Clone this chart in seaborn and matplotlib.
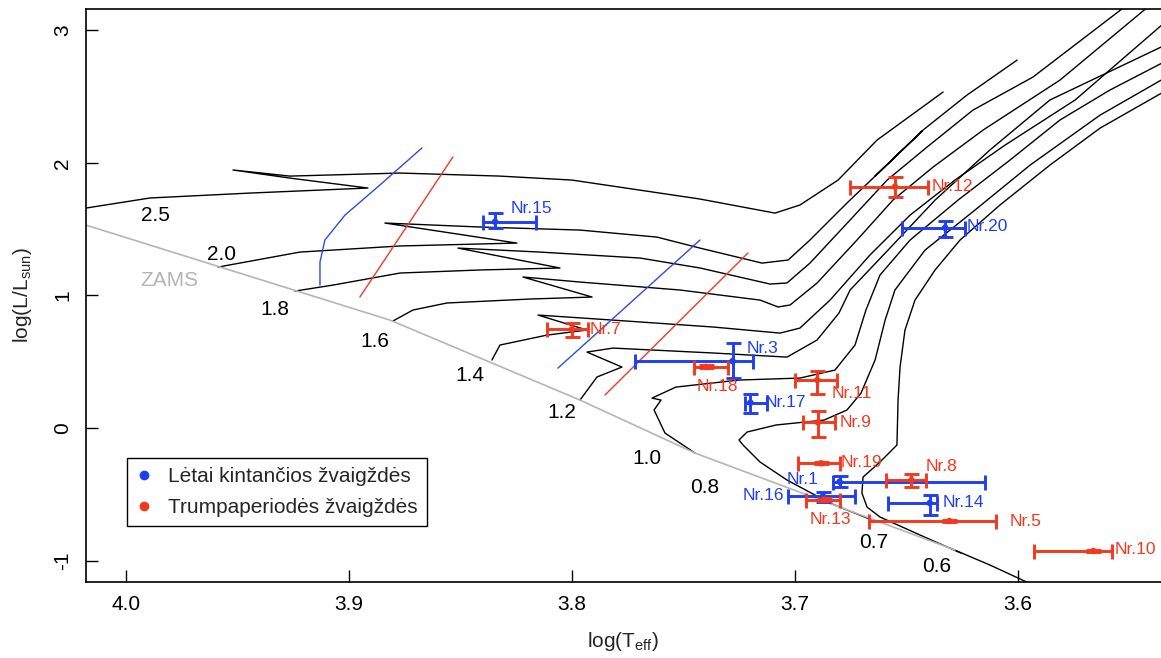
import numpy as np
import pandas as pd
import matplotlib
matplotlib.use("Agg")
import matplotlib.pyplot as plt
from matplotlib.lines import Line2D
import seaborn as sns

sns.set_theme(style="white")
plt.rcParams["font.family"] = ["Liberation Sans", "DejaVu Sans"]
plt.rcParams["mathtext.fontset"] = "custom"
plt.rcParams["mathtext.rm"] = "Liberation Sans"
plt.rcParams["mathtext.it"] = "Liberation Sans:italic"

# ---------------------------------------------------------------------------
# Evolutionary tracks, columns: log(Teff), log(L/Lsun)
# ---------------------------------------------------------------------------
track_2_5 = np.array([
    (4.0296, 1.644), (4.0179, 1.659), (3.9892, 1.735), (3.9444, 1.772), (3.8915, 1.810),
    (3.9265, 1.885), (3.9520, 1.946), (3.9265, 1.900), (3.8771, 1.923), (3.8323, 1.900),
    (3.8000, 1.870), (3.7426, 1.727), (3.7090, 1.621), (3.6978, 1.682), (3.6807, 1.870),
    (3.6632, 2.172), (3.6336, 2.534)])
track_2_0 = np.array([
    (3.9587, 1.214), (3.9220, 1.327), (3.8771, 1.373), (3.8247, 1.395), (3.8839, 1.546),
    (3.8413, 1.516), (3.7964, 1.493), (3.7619, 1.440), (3.7426, 1.357), (3.7148, 1.244),
    (3.7031, 1.267), (3.6933, 1.418), (3.6767, 1.697), (3.6650, 1.885), (3.6430, 2.240),
    (3.6641, 1.900), (3.6426, 2.247), (3.6229, 2.511), (3.6004, 2.775)])
track_1_8 = np.array([
    (3.9242, 1.033), (3.9072, 1.078), (3.8771, 1.169), (3.8413, 1.192), (3.8054, 1.207),
    (3.8511, 1.357), (3.8143, 1.327), (3.7695, 1.282), (3.7426, 1.207), (3.7112, 1.086),
    (3.7036, 1.094), (3.6933, 1.244), (3.6753, 1.569), (3.6587, 1.870), (3.6408, 2.119),
    (3.6202, 2.398), (3.5933, 2.647), (3.5453, 3.265)])
track_1_6 = np.array([
    (3.8803, 0.807), (3.8713, 0.890), (3.8561, 0.943), (3.8188, 0.973), (3.7910, 0.988),
    (3.8220, 1.139), (3.7964, 1.101), (3.7516, 1.041), (3.7157, 0.965), (3.7076, 0.913),
    (3.7022, 0.928), (3.6901, 1.094), (3.6722, 1.418), (3.6561, 1.719), (3.6381, 1.968),
    (3.6157, 2.247), (3.5812, 2.624), (3.5354, 3.265)])
track_1_4 = np.array([
    (3.8359, 0.513), (3.8323, 0.626), (3.8112, 0.701), (3.7933, 0.739), (3.8152, 0.852),
    (3.7816, 0.814), (3.7368, 0.762), (3.7067, 0.716), (3.6978, 0.754), (3.6843, 0.965),
    (3.6664, 1.305), (3.6484, 1.606), (3.6283, 1.870), (3.6058, 2.134), (3.5744, 2.474),
    (3.5300, 3.120)])
track_1_2 = np.array([
    (3.7964, 0.211), (3.7888, 0.385), (3.7776, 0.460), (3.7933, 0.573), (3.7816, 0.603),
    (3.7368, 0.566), (3.7036, 0.535), (3.6901, 0.664), (3.6803, 0.867), (3.6753, 1.041),
    (3.6583, 1.342), (3.6372, 1.719), (3.6126, 2.097), (3.5857, 2.474), (3.5300, 2.920)])
track_1_0 = np.array([
    (3.7448, -0.189), (3.7583, -0.038), (3.7632, 0.136), (3.7601, 0.211), (3.7641, 0.226),
    (3.7534, 0.309), (3.7251, 0.362), (3.6978, 0.377), (3.6821, 0.437), (3.6731, 0.626),
    (3.6682, 0.890), (3.6619, 1.154), (3.6484, 1.418), (3.6269, 1.719), (3.6036, 2.021),
    (3.5812, 2.323), (3.5588, 2.549), (3.5300, 2.800)])
track_0_8 = np.array([
    (3.6655, -0.694), (3.6843, -0.566), (3.7036, -0.392), (3.7157, -0.256), (3.7233, -0.128),
    (3.7251, -0.090), (3.7215, -0.030), (3.7085, 0.023), (3.6870, 0.060), (3.6767, 0.136),
    (3.6704, 0.264), (3.6641, 0.513), (3.6596, 0.814), (3.6552, 1.041), (3.6417, 1.342),
    (3.6193, 1.644), (3.5946, 1.983), (3.5632, 2.360), (3.5300, 2.680)])
track_0_7 = np.array([
    (3.6256, -0.943), (3.6439, -0.807), (3.6619, -0.671), (3.6677, -0.596), (3.6700, -0.490),
    (3.6695, -0.370), (3.6619, -0.256), (3.6543, -0.128), (3.6538, 0.211), (3.6529, 0.460),
    (3.6507, 0.739), (3.6462, 0.965), (3.6372, 1.192), (3.6260, 1.418), (3.6081, 1.682),
    (3.5857, 1.983), (3.5632, 2.262), (3.5300, 2.580)])
track_0_6 = np.array([
    (3.5860, -1.240), (3.6126, -1.033), (3.6305, -0.905)])

track_masses = ["2.5", "2.0", "1.8", "1.6", "1.4", "1.2", "1.0", "0.8", "0.7", "0.6"]
tracks = [track_2_5, track_2_0, track_1_8, track_1_6, track_1_4,
          track_1_2, track_1_0, track_0_8, track_0_7, track_0_6]

# where each mass is written next to its track
mass_label_logt = [3.987, 3.957, 3.9332, 3.8883, 3.8457, 3.8045, 3.7664, 3.7404, 3.6646, 3.6363]
mass_label_logl = [1.606, 1.305, 0.897, 0.656, 0.400, 0.121, -0.226, -0.445, -0.860, -1.041]

# zero-age main sequence
zams_logt = [4.0300, 3.8816, 3.7964, 3.7448, 3.6969, 3.6619, 3.6283]
zams_logl = [1.594, 0.814, 0.211, -0.189, -0.490, -0.709, -0.920]

# instability strip edges
strip_hot_blue = np.array([(3.9130, 1.078), (3.9130, 1.252), (3.9108, 1.418),
                           (3.9018, 1.606), (3.8861, 1.833), (3.8673, 2.112)])
strip_hot_red = np.array([(3.8951, 0.988), (3.8534, 2.044)])
strip_cool_blue = np.array([(3.8063, 0.452), (3.7426, 1.418)])
strip_cool_red = np.array([(3.7852, 0.249), (3.7211, 1.320)])

# ---------------------------------------------------------------------------
# Program stars
# ---------------------------------------------------------------------------
slow_names = ["Nr.15", "Nr.3", "Nr.17", "Nr.20", "Nr.1", "Nr.16", "Nr.14"]
slow_logt = [3.8345, 3.7280, 3.7200, 3.6327, 3.6800, 3.6875, 3.6396]
slow_logt_hot = [3.8398, 3.7717, 3.7225, 3.6522, 3.6828, 3.7032, 3.6582]
slow_logt_cool = [3.8161, 3.7187, 3.7125, 3.6240, 3.6150, 3.6730, 3.6365]
slow_logl = [1.556, 0.505, 0.191, 1.511, -0.405, -0.515, -0.565]
slow_logl_low = [1.511, 0.375, 0.111, 1.443, -0.447, -0.556, -0.652]
slow_logl_high = [1.619, 0.639, 0.254, 1.561, -0.360, -0.480, -0.502]

short_names = ["Nr.12", "Nr.7", "Nr.18", "Nr.11", "Nr.9", "Nr.19", "Nr.8", "Nr.13", "Nr.5", "Nr.10"]
short_logt = [3.6552, 3.8001, 3.7400, 3.6900, 3.6897, 3.6883, 3.6478, 3.6870, 3.6308, 3.5662]
short_logt_hot = [3.6753, 3.8114, 3.7453, 3.7000, 3.6962, 3.6987, 3.6592, 3.6950, 3.6670, 3.5930]
short_logt_cool = [3.6402, 3.7927, 3.7300, 3.6813, 3.6820, 3.6800, 3.6413, 3.6800, 3.6100, 3.5580]
short_logl = [1.820, 0.744, 0.462, 0.362, 0.043, -0.266, -0.392, -0.540, -0.701, -0.927]
short_logl_low = [1.740, 0.689, 0.452, 0.256, -0.070, -0.274, -0.447, -0.550, -0.711, -0.937]
short_logl_high = [1.896, 0.790, 0.472, 0.432, 0.128, -0.258, -0.347, -0.530, -0.691, -0.917]

group_names = ["Lėtai kintančios žvaigždės", "Trumpaperiodės žvaigždės"]
group_colors = ["#1f3ff2", "#f4381e"]

# label placement around each star (offset in points from the star)
label_offsets = {
    "Nr.15": (26, 9.4), "Nr.3": (21.6, 9.4), "Nr.17": (25.2, 0), "Nr.20": (30.2, 0.7),
    "Nr.1": (-26.6, 1.4), "Nr.16": (-43.2, 0.7), "Nr.14": (24.5, 0),
    "Nr.12": (41, 0), "Nr.7": (24.5, 0), "Nr.18": (8.6, -14.4), "Nr.11": (24.5, -9.4),
    "Nr.9": (27.4, 0), "Nr.19": (28.8, 0.7), "Nr.8": (21.6, 9.4), "Nr.13": (4.3, -14.4),
    "Nr.5": (54.7, 0), "Nr.10": (30.2, 0.7),
}

# ---------------------------------------------------------------------------
fig = plt.figure(figsize=(11.61, 6.58), dpi=100)
ax = fig.add_axes([0.0741, 0.1155, 0.9259, 0.8708])

track_df = pd.concat(
    [pd.DataFrame({"logt": t[:, 0], "logl": t[:, 1], "mass": m, "step": np.arange(len(t))})
     for m, t in zip(track_masses, tracks)],
    ignore_index=True)
sns.lineplot(data=track_df, x="logt", y="logl", units="mass", estimator=None,
             sort=False, color="black", linewidth=1.0, ax=ax, legend=False)

sns.lineplot(x=zams_logt, y=zams_logl, sort=False, estimator=None,
             color="#b5b5b5", linewidth=1.2, ax=ax)

for edge, col in [(strip_hot_blue, "#2a4de0"), (strip_hot_red, "#ee3a26"),
                  (strip_cool_blue, "#2a4de0"), (strip_cool_red, "#ee3a26")]:
    sns.lineplot(x=edge[:, 0], y=edge[:, 1], sort=False, estimator=None,
                 color=col, linewidth=1.0, ax=ax)

for name, lt, ll in zip(track_masses, mass_label_logt, mass_label_logl):
    ax.text(lt, ll, name, fontsize=15, ha="center", va="center", color="black")
ax.text(3.9803, 1.109, "ZAMS", fontsize=15, ha="center", va="center", color="#b5b5b5")

star_sets = [
    (slow_names, slow_logt, slow_logt_hot, slow_logt_cool, slow_logl, slow_logl_low, slow_logl_high),
    (short_names, short_logt, short_logt_hot, short_logt_cool, short_logl, short_logl_low, short_logl_high),
]
star_frames = []
for (names, lt, lt_hot, lt_cool, ll, ll_lo, ll_hi), grp, col in zip(star_sets, group_names, group_colors):
    lt = np.asarray(lt); ll = np.asarray(ll)
    xerr = [lt - np.asarray(lt_cool), np.asarray(lt_hot) - lt]
    yerr = [ll - np.asarray(ll_lo), np.asarray(ll_hi) - ll]
    ax.errorbar(lt, ll, xerr=xerr, yerr=yerr, fmt="none", ecolor=col,
                elinewidth=2.1, capsize=5.4, capthick=2.1, zorder=4)
    star_frames.append(pd.DataFrame({"name": names, "logt": lt, "logl": ll, "group": grp}))
    for n, x, y in zip(names, lt, ll):
        ax.annotate(n, (x, y), xytext=label_offsets[n], textcoords="offset points",
                    ha="center", va="center", color=col, fontsize=12.5, zorder=6)

stars = pd.concat(star_frames, ignore_index=True)
sns.scatterplot(data=stars, x="logt", y="logl", hue="group", palette=group_colors,
                s=22, edgecolor="none", legend=False, ax=ax, zorder=5)

# axes
ax.set_xlim(4.0179, 3.5359)
ax.set_ylim(-1.161, 3.160)
ax.set_xticks([4.0, 3.9, 3.8, 3.7, 3.6])
ax.set_xticklabels(["4.0", "3.9", "3.8", "3.7", "3.6"])
ax.set_yticks([-1, 0, 1, 2, 3])
ax.set_yticklabels(["-1", "0", "1", "2", "3"], rotation=90, va="center")
ax.tick_params(axis="both", direction="in", length=8.6, width=1.0, labelsize=15,
               colors="black", left=True, bottom=True)
ax.tick_params(axis="x", pad=9)
ax.tick_params(axis="y", pad=10)
for side in ["left", "bottom", "top"]:
    ax.spines[side].set_color("black")
    ax.spines[side].set_linewidth(1.2)
ax.spines["right"].set_visible(False)
ax.set_xlabel(r"log(T$_{\mathrm{eff}}$)", fontsize=15, labelpad=12)
ax.set_ylabel(r"log(L/L$_{\mathrm{sun}}$)", fontsize=15, labelpad=14)

handles = [Line2D([], [], marker="o", ls="", color=c, markersize=6) for c in group_colors]
leg = ax.legend(handles, group_names, loc="upper left", bbox_to_anchor=(0.0381, 0.2164),
                borderaxespad=0, fontsize=15, frameon=True, fancybox=False,
                edgecolor="black", framealpha=1, handlelength=0.7, handletextpad=0.8,
                labelspacing=0.55, borderpad=0.45)
leg.get_frame().set_linewidth(1.0)

fig.savefig("out.png", dpi=100)
